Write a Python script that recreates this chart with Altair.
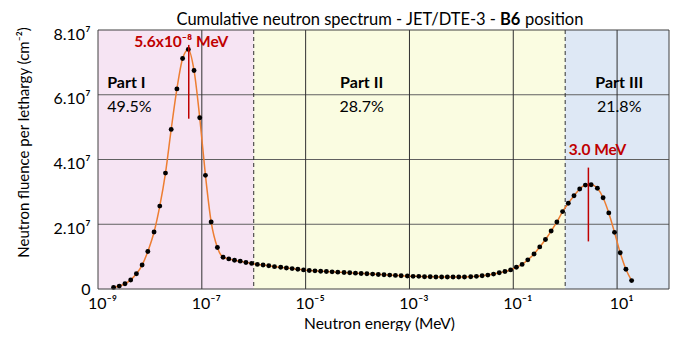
import altair as alt
import pandas as pd

# ---------------- data ----------------
log_energy = [
    -8.70, -8.59, -8.48, -8.37, -8.26, -8.15, -8.04, -7.92, -7.81, -7.70,
    -7.59, -7.48, -7.37, -7.26, -7.15, -7.04, -6.93, -6.82, -6.70, -6.59,
    -6.48, -6.37, -6.26, -6.15, -6.04, -5.93, -5.82, -5.71, -5.60, -5.48,
    -5.37, -5.26, -5.15, -5.04, -4.93, -4.82, -4.71, -4.60, -4.49, -4.38,
    -4.26, -4.15, -4.04, -3.93, -3.82, -3.71, -3.60, -3.49, -3.38, -3.27,
    -3.16, -3.04, -2.93, -2.82, -2.71, -2.60, -2.49, -2.38, -2.27, -2.16,
    -2.05, -1.94, -1.82, -1.71, -1.60, -1.49, -1.38, -1.27, -1.16, -1.05,
    -0.94, -0.83, -0.72, -0.60, -0.49, -0.38, -0.27, -0.16, -0.05, 0.06,
    0.17, 0.28, 0.39, 0.50, 0.62, 0.73, 0.84, 0.95, 1.06, 1.17,
    1.28,
]
fluence_e7 = [
    0.05, 0.09, 0.16, 0.28, 0.47, 0.74, 1.16, 1.76, 2.56, 3.58,
    4.93, 6.18, 7.12, 7.40, 6.75, 5.29, 3.51, 2.07, 1.28, 0.98,
    0.93, 0.89, 0.86, 0.82, 0.79, 0.76, 0.74, 0.72, 0.69, 0.67,
    0.65, 0.63, 0.61, 0.59, 0.57, 0.56, 0.55, 0.54, 0.53, 0.52,
    0.51, 0.50, 0.49, 0.48, 0.47, 0.46, 0.45, 0.44, 0.43, 0.42,
    0.41, 0.40, 0.39, 0.39, 0.38, 0.38, 0.37, 0.37, 0.37, 0.37,
    0.37, 0.37, 0.38, 0.39, 0.41, 0.43, 0.46, 0.50, 0.54, 0.59,
    0.67, 0.76, 0.90, 1.08, 1.30, 1.53, 1.79, 2.07, 2.39, 2.65,
    2.88, 3.09, 3.21, 3.22, 3.11, 2.82, 2.35, 1.75, 1.12, 0.61,
    0.26,
]

band_start = [1e-9, 1e-6, 1.0]
band_end = [1e-6, 1.0, 1e2]
band_color = ["#F6E4F3", "#FAFCE1", "#DEE8F5"]

solid_vlines = [1e-7, 1e-5, 1e-3, 1e-1, 1e1]
dashed_vlines = [1e-6, 1.0]
hlines = [2e7, 4e7, 6e7]

x_tick_values = [1e-9, 1e-7, 1e-5, 1e-3, 1e-1, 1e1]
x_tick_exps = [-9, -7, -5, -3, -1, 1]
x_tick_labels = ["10⁻⁹", "10⁻⁷", "10⁻⁵", "10⁻³", "10⁻¹", "10¹"]
y_tick_values = [0, 2e7, 4e7, 6e7, 8e7]
y_tick_labels = ["0", "2.10⁷", "4.10⁷", "6.10⁷", "8.10⁷"]

part_names = ["Part I", "Part II", "Part III"]
part_share = ["49.5%", "28.7%", "21.8%"]
part_x = [1.5e-9, 1.2e-4, 11.0]
part_align = ["left", "center", "center"]
part_name_y = 6.37e7
part_share_y = 5.61e7

peak_labels = ["5.6x10⁻⁸ MeV", "3.0 MeV"]
peak_label_x = [4.0e-8, 4.2]
peak_label_y = [7.62e7, 4.28e7]
peak_line_x = [5.6e-8, 2.8]
peak_line_y1 = [5.26e7, 1.47e7]
peak_line_y2 = [7.54e7, 3.75e7]

title_parts = ["Cumulative neutron spectrum - JET/DTE-3 -", "B6", "position"]

# ---------------- layout ----------------
W, H = 571, 259
FONT = "Lato"
RED = "#C00000"

pts = pd.DataFrame({"E": [10 ** v for v in log_energy],
                    "F": [f * 1e7 for f in fluence_e7]})
bands = pd.DataFrame({"x0": band_start, "x1": band_end, "c": band_color})
vsol = pd.DataFrame({"x": solid_vlines})
vdash = pd.DataFrame({"x": dashed_vlines})
hdf = pd.DataFrame({"y": hlines})
parts = pd.DataFrame({"name": part_names, "share": part_share, "x": part_x,
                      "align": part_align})
peaks = pd.DataFrame({"label": peak_labels, "lx": peak_label_x, "ly": peak_label_y,
                      "x": peak_line_x, "y1": peak_line_y1, "y2": peak_line_y2})

x_label_expr = " : ".join(
    f"round(log(datum.value)/LN10) == {e} ? '{lab}'" for e, lab in zip(x_tick_exps, x_tick_labels)
) + " : ''"
y_label_expr = " : ".join(
    f"datum.value == {v:.0f} ? '{lab}'" for v, lab in zip(y_tick_values, y_tick_labels)
) + " : ''"

x_scale = alt.Scale(type="log", domain=[1e-9, 1e2], nice=False)
y_scale = alt.Scale(domain=[0, 8e7], nice=False, zero=True)

xaxis = alt.Axis(values=x_tick_values, labelExpr=x_label_expr, title="Neutron energy (MeV)",
                 labelFontSize=16, titleFontSize=15.5, labelPadding=6, labelOffset=4,
                 titleY=34, titleX=281, titleBaseline="middle", labelFlush=False)
yaxis = alt.Axis(values=y_tick_values, labelExpr=y_label_expr,
                 title="Neutron fluence per lethargy (cm⁻²)",
                 labelFontSize=16, titleFontSize=15, labelPadding=8,
                 labelOffset=alt.condition("datum.value == 0", alt.value(0), alt.value(4)),
                 titleX=-75, titleY=112, titleBaseline="middle", titleAlign="center",
                 labelFlush=False)

band_layer = alt.Chart(bands).mark_rect().encode(
    x=alt.X("x0:Q", scale=x_scale, axis=xaxis), x2="x1:Q",
    y=alt.value(0), y2=alt.value(H),
    color=alt.Color("c:N", scale=None),
)
h_layer = alt.Chart(hdf).mark_rule(color="#606060", strokeWidth=1).encode(
    y=alt.Y("y:Q", scale=y_scale, axis=yaxis), x=alt.value(0), x2=alt.value(W)
)
v_layer = alt.Chart(vsol).mark_rule(color="#303030", strokeWidth=1).encode(
    x=alt.X("x:Q", scale=x_scale, axis=xaxis), y=alt.value(0), y2=alt.value(H)
)
vd_layer = alt.Chart(vdash).mark_rule(color="#303030", strokeWidth=1, strokeDash=[4, 3]).encode(
    x=alt.X("x:Q", scale=x_scale, axis=xaxis), y=alt.value(0), y2=alt.value(H)
)
line_layer = alt.Chart(pts).mark_line(color="#ED7D31", strokeWidth=1.5, interpolate="monotone").encode(
    x=alt.X("E:Q", scale=x_scale, axis=xaxis), y=alt.Y("F:Q", scale=y_scale, axis=yaxis)
)
pt_layer = alt.Chart(pts).mark_circle(color="black", opacity=1, size=24).encode(
    x=alt.X("E:Q", scale=x_scale, axis=xaxis), y=alt.Y("F:Q", scale=y_scale, axis=yaxis)
)
peak_rule = alt.Chart(peaks).mark_rule(color=RED, strokeWidth=1.5).encode(
    x=alt.X("x:Q", scale=x_scale, axis=xaxis),
    y=alt.Y("y1:Q", scale=y_scale, axis=yaxis), y2="y2:Q"
)
peak_text = alt.Chart(peaks).mark_text(color=RED, font=FONT, fontSize=15.5, fontWeight="bold",
                                       align="center", baseline="middle").encode(
    x=alt.X("lx:Q", scale=x_scale, axis=xaxis),
    y=alt.Y("ly:Q", scale=y_scale, axis=yaxis), text="label:N"
)
part_left = alt.Chart(parts[parts["align"] == "left"])
part_center = alt.Chart(parts[parts["align"] == "center"])
part_layers = []
for base, al in [(part_left, "left"), (part_center, "center")]:
    part_layers.append(base.mark_text(font=FONT, fontSize=16, fontWeight="bold", color="black",
                                      align=al, baseline="middle").encode(
        x=alt.X("x:Q", scale=x_scale, axis=xaxis),
        y=alt.Y("ny:Q", scale=y_scale, axis=yaxis), text="name:N"
    ).transform_calculate(ny=str(part_name_y)))
    part_layers.append(base.mark_text(font=FONT, fontSize=16, color="black",
                                      align=al, baseline="middle").encode(
        x=alt.X("x:Q", scale=x_scale, axis=xaxis),
        y=alt.Y("sy:Q", scale=y_scale, axis=yaxis), text="share:N"
    ).transform_calculate(sy=str(part_share_y)))

border = alt.Chart(pd.DataFrame({"a": [0]})).mark_rect(fillOpacity=0, stroke="#404040", strokeWidth=1).encode(
    x=alt.value(0), x2=alt.value(W), y=alt.value(0), y2=alt.value(H)
)

TY = -10
TFS = 16.5
title_df = pd.DataFrame({"t": title_parts})
t1 = alt.Chart(title_df.iloc[[0]]).mark_text(font=FONT, fontSize=TFS, align="right", baseline="middle",
                                            color="black").encode(
    text="t:N", x=alt.value(398), y=alt.value(TY))
t2 = alt.Chart(title_df.iloc[[1]]).mark_text(font=FONT, fontSize=TFS, fontWeight="bold", align="left",
                                            baseline="middle", color="black").encode(
    text="t:N", x=alt.value(402), y=alt.value(TY))
t3 = alt.Chart(title_df.iloc[[2]]).mark_text(font=FONT, fontSize=TFS, align="left", baseline="middle",
                                            color="black").encode(
    text="t:N", x=alt.value(427), y=alt.value(TY))

chart = alt.layer(
    band_layer, h_layer, v_layer, vd_layer, line_layer, pt_layer, peak_rule, peak_text,
    *part_layers, border, t1, t2, t3
).resolve_scale(color="independent").properties(
    width=W, height=H,
    autosize=alt.AutoSizeParams(type="none"),
    padding={"left": 90, "top": 22, "right": 7, "bottom": 42},
).configure_view(stroke=None).configure_axis(
    labelFont=FONT, titleFont=FONT, labelColor="black", titleColor="black",
    titleFontWeight="normal", domain=False, ticks=False, grid=False,
)

chart.save("out.html", embed_options={"renderer": "svg", "actions": False})
